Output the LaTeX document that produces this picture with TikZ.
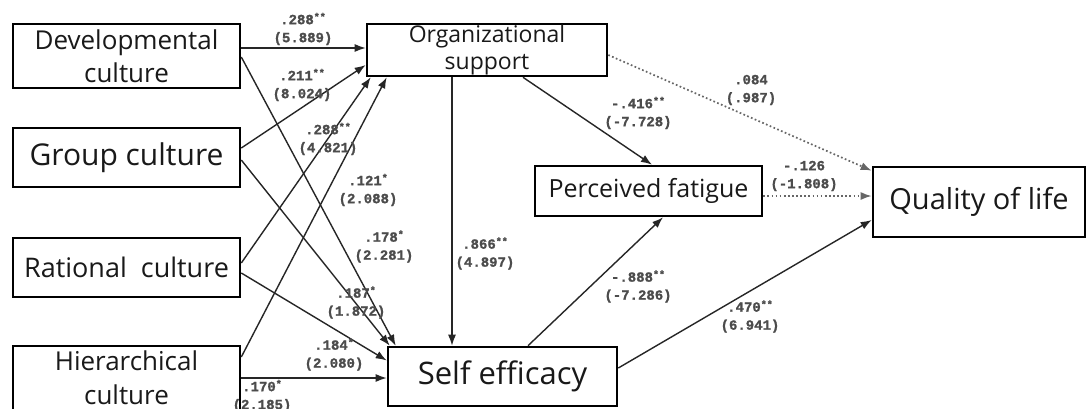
\documentclass[tikz,border=0pt]{standalone}
\usepackage{fontspec}
\usetikzlibrary{arrows.meta}
\newfontfamily\boxfont{Open Sans}
\newfontfamily\lblfont[FakeBold=1.2]{Liberation Mono}
\newcommand{\sg}[1]{\raisebox{4pt}{\fontsize{10}{10}\selectfont #1}}
\tikzset{
  box/.style={draw=black, line width=2.6pt, rectangle, inner sep=0pt, align=center, text=black!90},
  arr/.style={draw=black!85, line width=1.4pt, -{Latex[length=11pt,width=8pt]}},
  dotarr/.style={draw=black!60, line width=1.7pt, dash pattern=on 1.7pt off 2.4pt, -{Latex[length=11pt,width=8pt]}},
  lbl/.style={align=center, inner sep=0pt, text=black!70, font=\lblfont\bfseries\fontsize{14}{18}\selectfont}
}
\begin{document}
\begin{tikzpicture}[x=1pt,y=-1pt]
\useasboundingbox (0,0) rectangle (1089,408);
\clip (0,0) rectangle (1089,408);
\fill[white] (0,0) rectangle (1089,408);
% boxes
\node[box, minimum width=227pt, minimum height=64pt, font=\boxfont\fontsize{26}{33}\selectfont] (dev) at (126.5,56) {Developmental\\culture};
\node[box, minimum width=227pt, minimum height=59pt, font=\boxfont\fontsize{30}{36}\selectfont] (grp) at (126.5,157.5) {Group culture};
\node[box, minimum width=227pt, minimum height=59pt, font=\boxfont\fontsize{27}{32}\selectfont] (rat) at (126.5,267.5) {Rational\ \ culture};
\node[box, minimum width=227pt, minimum height=64pt, font=\boxfont\fontsize{26}{34}\selectfont] (hier) at (126.5,378) {Hierarchical\\culture};
\node[box, minimum width=240pt, minimum height=52pt, font=\boxfont\fontsize{23}{27}\selectfont] (org) at (487,50) {Organizational\\support};
\node[box, minimum width=229pt, minimum height=59pt, font=\boxfont\fontsize{31}{36}\selectfont] (self) at (502.5,376.5) {Self efficacy};
\node[box, minimum width=227pt, minimum height=50pt, font=\boxfont\fontsize{25}{30}\selectfont] (fat) at (648.5,191) {Perceived fatigue};
\node[box, minimum width=212pt, minimum height=70pt, font=\boxfont\fontsize{29}{34}\selectfont] (qol) at (979,202) {Quality of life};
% connectors to organizational support
\draw[arr] ([yshift=8pt]dev.east) -- ([yshift=2pt]org.west);
\draw[arr] ([yshift=9.5pt]grp.east) -- ([yshift=-15pt]org.west);
\draw[arr] ([yshift=4.5pt]rat.east) -- ([xshift=5pt]org.south west);
\draw[arr] ([yshift=21pt]hier.east) -- ([xshift=21pt]org.south west);
% connectors to self efficacy
\draw[arr] ([yshift=-1pt]dev.east) -- ([xshift=9pt]self.north west);
\draw[arr] ([yshift=-2.5pt]grp.east) -- ([xshift=3pt]self.north west);
\draw[arr] ([yshift=-5.5pt]rat.east) -- ([yshift=16pt]self.west);
\draw[arr] ([yshift=0pt]hier.east) -- ([yshift=-1.5pt]self.west);
\draw[arr] ([xshift=-35pt]org.south) -- ([xshift=-50.5pt]self.north);
% others
\draw[arr] ([xshift=36pt]org.south) -- ([xshift=3.5pt]fat.north);
\draw[arr] ([xshift=25.5pt]self.north) -- ([xshift=14.5pt]fat.south);
\draw[arr] ([yshift=8.5pt]self.east) -- ([yshift=-18pt]qol.west);
\draw[dotarr] ([yshift=-5pt]fat.east) -- ([yshift=6pt]qol.west);
\draw[dotarr] ([yshift=-5pt]org.east) -- ([yshift=-5pt]qol.north west);
% labels
\node[lbl] (l1) at (303,29) {.288\sg{**}\\(5.889)};
\node[lbl] (l2) at (302,85) {.211\sg{**}\\(8.024)};
\node[lbl] (l3) at (328,139) {.288\sg{**}\\(4.821)};
\node[lbl] (l4) at (368,190) {.121\sg{*}\\(2.088)};
\node[lbl] (l5) at (384,246.5) {.178\sg{*}\\(2.281)};
\node[lbl] (l6) at (356,302.5) {.187\sg{*}\\(1.872)};
\node[lbl] (l7) at (334,354.5) {.184\sg{*}\\(2.080)};
\node[lbl] (l8) at (262,396) {.170\sg{*}\\(2.185)};
\node[lbl] (l9) at (485,253.5) {.866\sg{**}\\(4.897)};
\node[lbl] (l10) at (638,113) {-.416\sg{**}\\(-7.728)};
\node[lbl] (l11) at (751,90) {.084\\(.987)};
\node[lbl] (l12) at (804,176) {-.126\\(-1.808)};
\node[lbl] (l13) at (638,286.5) {-.888\sg{**}\\(-7.286)};
\node[lbl] (l14) at (750,316.5) {.470\sg{**}\\(6.941)};
\end{tikzpicture}
\end{document}
